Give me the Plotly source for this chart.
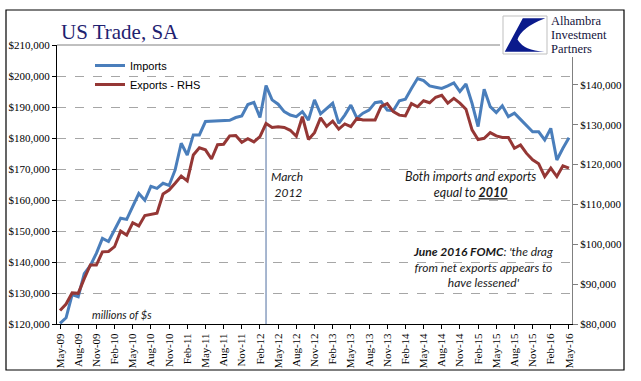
import plotly.graph_objects as go
import pandas as pd

W, H = 641, 381
PL, PR, PT, PB = 57, 572, 45, 324  # plot area in pixels

def px(x):
    return (x - PL) / (PR - PL)

def py(y):
    return (PB - y) / (PB - PT)

months = list(pd.date_range("2009-05-01", periods=85, freq="MS").strftime("%b-%y"))

imports = [120200, 122000, 129500, 128800, 136200, 138800, 142800, 147600, 146600, 150300,
           154100, 153750, 157850, 162100, 159900, 164400, 163750, 165400, 164700, 169700,
           178300, 174500, 181000, 181000, 185300, 185400, 185500, 185700, 185700, 186600,
           187100, 190800, 191500, 186600, 196900, 192300, 190900, 188500, 187400, 186900,
           188500, 185800, 192300, 187800, 189500, 191200, 184700, 187400, 190600, 186400,
           188000, 189000, 191400, 191700, 189000, 188800, 192000, 192500, 196000, 199200,
           198500, 196800, 196400, 196000, 196800, 197800, 195000, 197400, 191200, 183700,
           195700, 190100, 188200, 190400, 186900, 188000, 186000, 183900, 182000, 182000,
           179400, 183100, 172900, 176700, 180100]

exports = [83400, 85000, 87800, 87700, 91400, 94800, 94800, 98100, 98200, 99400,
           103300, 102300, 105400, 104600, 107200, 107500, 107800, 112600, 113600, 115300,
           117100, 115900, 122400, 124200, 123700, 121400, 125000, 125100, 127200, 127300,
           125600, 126500, 125700, 127000, 130300, 129300, 129500, 129300, 128600, 127100,
           132000, 126300, 128000, 131700, 129600, 130900, 128900, 130200, 129500, 131600,
           131200, 131200, 131200, 134600, 135300, 133300, 132400, 132200, 135300, 134500,
           136000, 135500, 136900, 137400, 135400, 136600, 135400, 133900, 128700, 126300,
           126600, 128000, 127200, 126800, 126800, 124100, 124900, 122800, 121200, 120200,
           117000, 119100, 117000, 119700, 119100]

tick_labels = ["May-09", "Aug-09", "Nov-09", "Feb-10", "May-10", "Aug-10", "Nov-10", "Feb-11",
               "May-11", "Aug-11", "Nov-11", "Feb-12", "May-12", "Aug-12", "Nov-12", "Feb-13",
               "May-13", "Aug-13", "Nov-13", "Feb-14", "May-14", "Aug-14", "Nov-14", "Feb-15",
               "May-15", "Aug-15", "Nov-15", "Feb-16", "May-16"]

left_ticks = [120000, 130000, 140000, 150000, 160000, 170000, 180000, 190000, 200000, 210000]
right_range = [80000, 150000]
right_ticks = [80000, 90000, 100000, 110000, 120000, 130000, 140000]  # $150,000 hidden by logo
marker_month = "Mar-12"

BLUE = "#4A7EBB"
RED = "#953735"
NAVY = "#1F2270"

fig = go.Figure()

mi = months.index(marker_month)
fig.add_trace(go.Scatter(x=[marker_month, marker_month], y=[left_ticks[0], imports[mi]],
                         mode="lines", line=dict(color="#4F6FA0", width=1),
                         showlegend=False, hoverinfo="skip"))
fig.add_trace(go.Scatter(x=months, y=imports, name="Imports", mode="lines",
                         line=dict(color=BLUE, width=3)))
fig.add_trace(go.Scatter(x=months, y=exports, name="Exports - RHS", mode="lines",
                         line=dict(color=RED, width=3), yaxis="y2"))

serif = "Liberation Serif"
fig.update_layout(
    width=W, height=H,
    margin=dict(l=PL, r=W - PR, t=PT, b=H - PB, autoexpand=False),
    paper_bgcolor="white", plot_bgcolor="white",
    showlegend=True,
    legend=dict(x=px(90), y=py(51), xanchor="left", yanchor="top",
                bgcolor="rgba(0,0,0,0)", font=dict(family="Liberation Sans", size=11, color="#000"),
                tracegroupgap=0, itemwidth=30),
    xaxis=dict(type="category", categoryorder="array", categoryarray=months,
               range=[-0.5, len(months) - 0.5],
               tickmode="array", tickvals=tick_labels, ticktext=tick_labels,
               tickangle=-90, tickfont=dict(family=serif, size=11, color="#000"),
               ticks="outside", ticklen=4, tickcolor="#000",
               showline=True, linecolor="#000", linewidth=1, showgrid=False, zeroline=False),
    yaxis=dict(range=[left_ticks[0], left_ticks[-1]], tickvals=left_ticks,
               ticktext=[f"${v:,.0f}" for v in left_ticks],
               tickfont=dict(family=serif, size=11, color="#000"),
               ticks="outside", ticklen=4, tickcolor="#000",
               showline=True, linecolor="#000", linewidth=1,
               showgrid=True, gridcolor="#A6A6A6", griddash="dash", gridwidth=1, zeroline=False),
    yaxis2=dict(range=right_range, tickvals=right_ticks,
                ticktext=[f"${v:,.0f}" for v in right_ticks],
                overlaying="y", side="right",
                tickfont=dict(family=serif, size=11, color="#000"),
                ticks="outside", ticklen=5, tickcolor="#808080",
                showline=True, linecolor="#808080", linewidth=1,
                showgrid=False, zeroline=False),
)

shapes = []
# top border of plot area
shapes.append(dict(type="line", xref="paper", yref="paper", x0=0, x1=1, y0=1, y1=1,
                   line=dict(color="#808080", width=1), layer="above"))
# logo white cover
shapes.append(dict(type="rect", xref="paper", yref="paper", x0=px(500), x1=px(623),
                   y0=py(57), y1=py(12), fillcolor="white", line=dict(width=0), layer="above"))
# logo square
lx0, lx1, ly0, ly1 = 503, 547, 16, 54
shapes.append(dict(type="rect", xref="paper", yref="paper", x0=px(lx0), x1=px(lx1),
                   y0=py(ly1), y1=py(ly0), fillcolor="white",
                   line=dict(color="#BFBFBF", width=1), layer="above"))

def lp(u, v):
    return f"{px(lx0 + u * (lx1 - lx0)):.5f},{py(ly0 + v * (ly1 - ly0)):.5f}"

path = ("M " + lp(0.45, 0.06) + " L " + lp(0.96, 0.06) +
        " Q " + lp(0.42, 0.30) + " " + lp(0.33, 0.62) +
        " Q " + lp(0.48, 0.92) + " " + lp(0.94, 0.94) +
        " L " + lp(0.04, 0.94) + " Z")
shapes.append(dict(type="path", xref="paper", yref="paper", path=path,
                   fillcolor="#0A1A8C", line=dict(width=0), layer="above"))
# outer frame
shapes.append(dict(type="rect", xref="paper", yref="paper", x0=px(6), x1=px(624),
                   y0=py(370), y1=py(10), line=dict(color="#000", width=1.2),
                   fillcolor="rgba(0,0,0,0)", layer="above"))
fig.update_layout(shapes=shapes)

ann = []
def note(x, y, text, size=12, family="Lato", color="#1a1a1a", align="center", xanchor="center"):
    ann.append(dict(x=px(x), y=py(y), xref="paper", yref="paper", text=text, showarrow=False,
                    font=dict(family=family, size=size, color=color), align=align,
                    xanchor=xanchor, yanchor="middle", borderpad=0))

note(60, 32, "US Trade, SA", size=21, family=serif, color=NAVY, xanchor="left")
note(550, 21, "Alhambra", size=12.5, family=serif, color="#14143C", xanchor="left")
note(550, 35, "Investment", size=12.5, family=serif, color="#14143C", xanchor="left")
note(550, 49, "Partners", size=12.5, family=serif, color="#14143C", xanchor="left")
note(287, 184.5, "<i>March<br> 2012</i>", size=12)
note(122, 314, "<i>millions of $s</i>", size=11)
note(470, 184.5, "<i>Both imports and exports<br>equal to <b><u>2010</u></b></i>", size=12.5)
note(483, 267, "<i><b>June 2016 FOMC</b>: 'the drag<br>from net exports appears to<br>have lessened'</i>", size=12)
fig.update_layout(annotations=ann)

fig.write_html("out.html", config={"displayModeBar": False},
               post_script="document.body.style.margin='0px';")
